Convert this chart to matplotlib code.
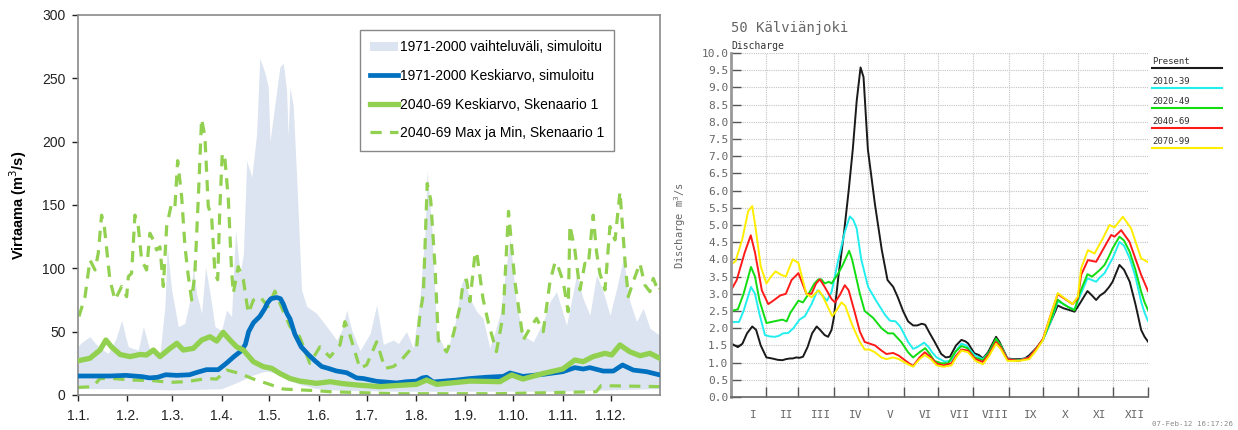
import numpy as np
import matplotlib.pyplot as plt
from matplotlib.patches import Patch
from matplotlib.lines import Line2D

# ---------------- left chart data (day of year, m3/s) ----------------
band_top_day = [0, 1.5, 5, 7.5, 11, 15, 19, 24, 27.4, 30, 31.6, 37.8, 41, 45, 51.4, 54.5, 56, 58.7,
                62.9, 67, 70.2, 72.3, 74.4, 77.5, 80, 82.8, 85.9, 90, 93.2, 96.3, 98.8, 101.6, 103.7,
                105.8, 109, 112, 114, 117.3, 119.3, 120.4, 122.5, 126.6, 128.7, 130.8, 131.8, 132.9,
                135, 137, 140.2, 143.4, 149.6, 156, 162.2, 165.4, 168.5, 171.7, 176.9, 183.2, 187.3,
                191.5, 197.8, 200.9, 206, 210.3, 214.4, 217.6, 219, 221.8, 225, 231.2, 236.4, 240.6,
                242, 245.8, 250, 254, 258.3, 264.6, 270.9, 275, 279.2, 285.5, 291.8, 296, 300.1,
                306.4, 312.7, 316.8, 321, 325.2, 329.4, 333.6, 337.8, 342, 346.1, 350.3, 354.5,
                358.7, 365]
band_top = [38, 40.6, 44, 46, 40.6, 36, 32.9, 45, 59, 45, 38, 35.5, 54, 35.5, 33, 70, 117, 83,
            54, 56.5, 75, 101, 80, 64.5, 101, 80, 54, 51, 67, 62, 130, 96, 111,
            185, 172, 206, 266, 254, 243, 200, 220, 259, 262, 241, 204, 243,
            228, 175, 83, 70, 64.5, 54, 43.4, 51, 67, 51, 35, 48.7, 71,
            40, 43.4, 40.6, 50, 37, 76, 129, 177, 133, 48.7, 33, 56.5, 88,
            92, 76, 66, 60.5, 37, 63, 124, 71, 47, 42, 58, 73.7, 81.6,
            55, 94.7, 76, 63, 94.7, 81.6, 63, 84, 108, 73.7, 58, 68.4,
            52.6, 47]

band_low_day = [0, 30, 60, 90, 100, 110, 118, 125, 132, 140, 150, 160, 200, 250, 300, 330, 365]
band_low = [5, 5, 4, 5, 10, 16, 19, 17, 12, 8, 5, 4, 3, 3, 3, 4, 5]

mean_old_day = [0, 10, 20, 30, 40, 45, 50, 55, 62, 70, 75, 80.6, 88, 93, 97.5, 102.5, 105, 107,
                110, 114, 117, 119, 121, 124.6, 127, 128.7, 131, 133, 136, 140, 144.4, 148.6,
                152.8, 157, 162, 168.5, 174.7, 179, 187.3, 199.8, 206, 212.3, 216, 218.6, 222.8,
                237.4, 245.8, 256, 266.7, 270.9, 279, 291.7, 304, 311.6, 316.8, 321, 329.4,
                335.7, 341.5, 348.2, 356.6, 365]
mean_old = [15, 15, 15, 15.5, 14.5, 13.5, 14, 16, 15.5, 16, 18, 20, 20, 25, 30, 35, 40, 50,
            57, 62, 68, 73, 76, 77, 76, 72, 64.5, 60, 48, 38, 32, 27,
            22.5, 21, 19, 17.6, 13.5, 13, 10.8, 9.5, 10.5, 11, 13.5, 14, 10.3,
            11.8, 13, 14, 14.7, 17.4, 14.7, 16.3, 18.4, 21.6, 20.5, 21.6, 18.9,
            18.9, 23.7, 19.7, 18.4, 15.8]

mean_new_day = [0, 7.5, 13.8, 17.5, 21, 26.4, 32.6, 38.9, 43, 47.3, 51.4, 57.7, 62, 66, 72.3,
                77.6, 82.8, 87, 91, 95.3, 99.5, 103.7, 110, 116.2, 121.5, 126.6, 133, 139,
                149.6, 158, 166, 174.7, 189.4, 200, 212.3, 218.6, 225, 246, 264.6, 272, 279,
                291.7, 304, 311.6, 316.8, 323, 330.5, 334.7, 339.9, 346, 352.5, 358.7, 365]
mean_new = [27, 29, 35.5, 43.4, 38, 32, 30.3, 32, 31.6, 35.5, 30.3, 36.8, 40.8, 35.5, 36.8,
            43.4, 46, 42.6, 49.5, 43.4, 38, 35.5, 26.3, 22.4, 21, 17, 13, 11,
            9.2, 10.5, 9, 7.9, 6.6, 7.5, 8.4, 11.8, 8.4, 11, 10.5, 15.8, 12.6,
            17, 20.5, 27.6, 26.3, 30.3, 32.9, 31.6, 39.5, 34.2, 31, 32.9, 28.9]

min_new_day = [0, 9.4, 13.8, 22, 34.5, 47.3, 57.7, 68, 80.6, 87, 93.2, 101.6, 110, 118.3, 128.7,
               149.6, 158, 200, 262, 325, 328, 365]
min_new = [6, 6.6, 13, 13, 11.8, 11.3, 10, 10.5, 13, 12.6, 19.7, 17, 12.6, 9.2, 4.7,
           3.4, 2.6, 1, 1, 2.6, 7.4, 6.6]

max_new_day = [0.6, 4.4, 7.5, 10.7, 12.7, 14.8, 16.5, 20, 23.2, 27.4, 30.5, 31.6, 33.6, 35.7,
               37.8, 39.9, 43, 45.1, 47.2, 49.3, 51.4, 53.5, 55.6, 58.7, 60.8, 62.5, 65, 67.1,
               69.2, 71.3, 73.3, 75.4, 77.5, 79.6, 81.7, 83.8, 85.9, 87.6, 89, 90.5, 92.2, 94.3,
               96.3, 97.4, 100.5, 103.7, 106.8, 110, 114.1, 119.3, 123.5, 126.6, 133, 139,
               145.4, 151.7, 158, 164.3, 167.4, 170.5, 176.8, 181, 187.3, 192.5, 197.7, 201.9,
               208.2, 212.4, 214.4, 216.6, 219, 221.2, 223.9, 226, 231.2, 235.3, 239.6, 241.6,
               243.7, 245.8, 249, 250, 254, 257.2, 262.4, 266.6, 270, 274, 279.2, 283.4, 287.6,
               291.8, 296, 299, 300.1, 304.3, 307.4, 308.5, 311.6, 314.8, 317.9, 320, 323.1,
               325.2, 327.3, 330.5, 333.6, 336.8, 339.9, 343, 345.1, 348.2, 352.4, 355.5,
               358.7, 360.8, 364, 365]
max_new = [62, 77.6, 106.6, 98.7, 112, 142, 133, 91, 75, 85.7, 77.6, 93.6, 96, 142,
           133, 106.6, 98.7, 127.7, 122.4, 114.5, 117, 85.7, 133, 151.5, 148.8, 185, 156.7, 117,
           93.6, 75, 96, 154, 218, 204, 148.8, 141, 96, 91, 148.8, 191, 185.6, 154,
           98.7, 80.3, 101.3, 91, 64.5, 75, 77.6, 69.8, 82, 72.4, 54, 46,
           25, 38, 30, 39.5, 57.9, 47.4, 21, 23.7, 42, 21, 22.4, 26.3,
           35.5, 38, 63, 80, 167, 154, 101, 43, 34, 47.4, 70, 89.5,
           90.8, 73.7, 112, 113, 76, 57.9, 34.2, 63, 145, 89.5, 43.4, 52.6, 60.5,
           50, 89.5, 104, 105, 89.5, 65.8, 134, 114.5, 83, 104, 102.6, 142,
           113, 96, 83, 133, 122.4, 160.5, 106.6, 77.6, 89.5, 104, 86.8,
           81.6, 92, 81.6, 84]

month_start = [0, 31, 59, 90, 120, 151, 181, 212, 243, 273, 304, 334]
left_month_labels = ['1.1.', '1.2.', '1.3.', '1.4.', '1.5.', '1.6.', '1.7.', '1.8.', '1.9.',
                     '1.10.', '1.11.', '1.12.']

# ---------------- right chart data (day of year, m3/s) ----------------
present_day = [0, 6, 10, 14, 18.6, 22, 26, 31, 36, 41, 45, 48, 51.6, 54, 57, 60, 63, 67, 71, 75,
               78, 82, 85, 88, 90, 94, 99, 103, 106.6, 110, 113.4, 116, 119.8, 126, 132, 137,
               142, 146, 150.6, 155, 159.4, 163, 167, 170, 174, 178.3, 184, 188, 191.6, 197,
               201.7, 205, 207.5, 213, 217, 220.5, 225, 232, 235, 242, 247, 252.6, 257, 261,
               268, 273, 280, 286, 291, 296, 300.7, 305, 312, 316, 319.6, 323, 327, 331, 334,
               340, 344, 349, 354, 359, 362, 365]
present = [1.56, 1.45, 1.55, 1.85, 2.05, 1.95, 1.5, 1.15, 1.12, 1.08, 1.07, 1.1, 1.12, 1.12,
           1.15, 1.14, 1.17, 1.45, 1.85, 2.05, 1.95, 1.8, 1.75, 1.95, 2.3, 3.5, 4.8, 6.0, 7.2,
           8.6, 9.58, 9.3, 7.2, 5.6, 4.27, 3.4, 3.2, 2.9, 2.5, 2.2, 2.08, 2.08, 2.13, 2.1,
           1.85, 1.6, 1.25, 1.15, 1.17, 1.5, 1.66, 1.62, 1.56, 1.27, 1.22, 1.12, 1.3, 1.75,
           1.6, 1.12, 1.1, 1.1, 1.12, 1.21, 1.45, 1.67, 2.2, 2.66, 2.58, 2.53, 2.48, 2.7,
           3.08, 2.95, 2.82, 2.95, 3.04, 3.2, 3.35, 3.84, 3.7, 3.35, 2.7, 1.95, 1.75, 1.61]

s2010_day = [0, 7, 11, 17.5, 21, 25, 29.7, 34, 38.5, 42, 45.6, 50, 54.6, 60, 64.7, 70.5, 75.7,
             80, 84, 88, 94, 99.6, 104, 107, 110, 114, 120, 127, 134.6, 139, 144, 148, 152,
             155, 159.4, 163, 169, 173, 176, 180, 187, 193, 197, 201.7, 206, 213, 220.5, 226,
             232, 236, 242, 252, 261, 267, 273, 280, 286, 291, 296, 300.7, 305, 312, 316,
             319.6, 323, 327, 331, 334, 340, 344, 349, 354, 359, 362, 365]
s2010 = [2.18, 2.18, 2.5, 3.2, 3.0, 2.4, 1.8, 1.76, 1.75, 1.78, 1.85, 1.86, 2.0, 2.25, 2.35,
         2.7, 3.1, 2.95, 2.8, 3.05, 4.0, 4.8, 5.25, 5.15, 4.9, 4.0, 3.2, 2.8, 2.4, 2.22, 2.2,
         2.05, 1.8, 1.6, 1.4, 1.45, 1.58, 1.45, 1.3, 1.15, 1.03, 1.05, 1.35, 1.55, 1.5, 1.22,
         1.1, 1.3, 1.65, 1.5, 1.1, 1.07, 1.15, 1.4, 1.65, 2.2, 2.78, 2.7, 2.6, 2.55, 2.9,
         3.45, 3.4, 3.35, 3.48, 3.6, 3.85, 4.03, 4.51, 4.4, 4.03, 3.5, 2.77, 2.45, 2.21]

s2020_day = [0, 6, 11, 17.5, 21, 25, 31, 38, 45, 48.7, 52, 59, 63, 68, 73, 76.4, 79, 82, 85.7,
             88, 94, 98, 103.4, 106, 112.8, 117, 124.4, 131.7, 137.5, 142, 149, 155, 159.4,
             165, 170, 174, 178, 184, 190, 196, 201.7, 207, 213, 220.5, 226, 232, 236, 242,
             252, 261, 267, 273, 280, 286, 291, 296, 300.7, 305, 312, 316, 319.6, 323, 327,
             331, 334, 340, 344, 349, 354, 359, 362, 365]
s2020 = [2.5, 2.55, 3.0, 3.78, 3.5, 2.8, 2.15, 2.2, 2.25, 2.2, 2.45, 2.8, 2.75, 3.0, 3.3, 3.42,
         3.42, 3.3, 3.35, 3.3, 3.6, 3.85, 4.25, 4.0, 3.0, 2.5, 2.3, 2.0, 1.85, 1.85, 1.6, 1.3,
         1.15, 1.3, 1.42, 1.25, 1.05, 0.98, 0.98, 1.3, 1.48, 1.42, 1.15, 1.07, 1.3, 1.7, 1.5,
         1.08, 1.06, 1.12, 1.4, 1.67, 2.25, 2.83, 2.7, 2.6, 2.52, 3.0, 3.57, 3.5, 3.6, 3.7,
         3.84, 4.1, 4.32, 4.66, 4.55, 4.22, 3.7, 3.06, 2.75, 2.53]

s2040_day = [0, 5, 12, 17.3, 21, 27, 32.6, 37, 43, 48, 53, 59, 62, 66, 70.5, 74.5, 77.8, 82, 88,
             91, 95, 99.6, 103, 108, 112.8, 117, 126, 131.7, 136, 142, 147, 155, 159.4, 165,
             169.6, 175, 180, 186, 193, 197, 201.7, 207.5, 214, 220.5, 226, 232, 236, 242,
             252, 261, 267, 273, 280, 286, 299, 303.6, 306.5, 312.4, 319.6, 327, 332.8,
             335.7, 341.5, 348.8, 359, 365]
s2040 = [3.1, 3.4, 4.2, 4.7, 4.2, 3.1, 2.7, 2.8, 2.95, 3.0, 3.4, 3.6, 3.35, 3.0, 3.0, 3.3,
         3.42, 3.2, 2.85, 2.75, 2.95, 3.25, 3.1, 2.5, 1.9, 1.6, 1.5, 1.35, 1.25, 1.28, 1.2,
         1.0, 0.9, 1.15, 1.3, 1.15, 0.97, 0.92, 0.98, 1.2, 1.38, 1.35, 1.1, 1.02, 1.25, 1.6,
         1.45, 1.1, 1.05, 1.15, 1.4, 1.68, 2.4, 2.99, 2.7, 2.87, 3.55, 3.98, 3.93, 4.37,
         4.71, 4.66, 4.85, 4.51, 3.55, 3.08]

s2070_day = [0, 4, 10, 15, 18.6, 22, 26, 31, 35, 39, 44, 48, 54, 59, 62, 66, 70.5, 75, 77, 80,
             85, 88.6, 92, 96.7, 100, 106, 112.8, 117, 121, 126, 131.7, 136, 142, 147, 155,
             159.4, 165, 169.6, 175, 180, 186, 193, 197, 201.7, 207.5, 214, 220.5, 226, 232,
             236, 242, 252, 261, 267, 273, 280, 286, 299, 303.6, 306.5, 312.4, 318.2, 325.5,
             331.3, 335.7, 343, 350.2, 359, 365]
s2070 = [3.85, 3.95, 4.6, 5.4, 5.55, 4.8, 3.8, 3.3, 3.5, 3.65, 3.55, 3.5, 4.0, 3.9, 3.5, 3.0,
         2.9, 3.05, 3.1, 2.95, 2.6, 2.35, 2.5, 2.75, 2.65, 2.1, 1.6, 1.38, 1.38, 1.3, 1.15,
         1.1, 1.15, 1.1, 0.95, 0.88, 1.1, 1.22, 1.1, 0.92, 0.88, 0.92, 1.15, 1.35, 1.3, 1.05,
         0.95, 1.2, 1.55, 1.4, 1.05, 1.05, 1.1, 1.35, 1.65, 2.4, 3.02, 2.7, 2.92, 3.74, 4.27,
         4.17, 4.61, 5.0, 4.93, 5.24, 4.9, 4.03, 3.92]

month_edges = [0, 31, 59, 90, 120, 151, 181, 212, 243, 273, 304, 334, 365]
roman_months = ['I', 'II', 'III', 'IV', 'V', 'VI', 'VII', 'VIII', 'IX', 'X', 'XI', 'XII']

series_names = ['Present', '2010-39', '2020-49', '2040-69', '2070-99']
series_colors = ['#1a1a1a', '#22eeee', '#11dd11', '#ff1a1a', '#ffee00']
series_days = [present_day, s2010_day, s2020_day, s2040_day, s2070_day]
series_vals = [present, s2010, s2020, s2040, s2070]

# ======================================================================
W, H = 1238, 430
fig = plt.figure(figsize=(W / 100, H / 100), dpi=100)

# --- left chart ---
ax = fig.add_axes([78 / W, 1 - 395 / H, (660 - 78) / W, (395 - 15) / H])
ax.fill_between(band_top_day, np.interp(band_top_day, band_low_day, band_low), band_top,
                color='#dbe4f0', lw=0, zorder=1)
ax.plot(max_new_day, max_new, color='#92d050', lw=2.3, dashes=(3.5, 2.6), zorder=2)
ax.plot(min_new_day, min_new, color='#92d050', lw=2.3, dashes=(3.5, 2.6), zorder=2)
ax.plot(mean_old_day, mean_old, color='#0070c0', lw=3.4, zorder=3)
ax.plot(mean_new_day, mean_new, color='#92d050', lw=3.8, zorder=4)

ax.set_xlim(0, 365)
ax.set_ylim(0, 300)
ax.set_xticks(month_start)
ax.set_xticklabels(left_month_labels)
ax.set_yticks(np.arange(0, 301, 50))
ax.tick_params(labelsize=10, colors='#222222', length=4, width=1, pad=5)
ax.tick_params(axis='x', pad=6)
for sp in ax.spines.values():
    sp.set_color('#8a8a8a')
    sp.set_linewidth(1.2)
for lab in ax.get_xticklabels() + ax.get_yticklabels():
    lab.set_fontfamily('Liberation Sans')

fig.text(18 / W, 1 - 205 / H, 'Virtaama (m$^3$/s)', rotation=90, ha='center', va='center',
         fontsize=10.5, fontweight='bold', family='Liberation Sans')

handles = [Patch(facecolor='#dbe4f0', edgecolor='none'),
           Line2D([], [], color='#0070c0', lw=3.4),
           Line2D([], [], color='#92d050', lw=3.8),
           Line2D([], [], color='#92d050', lw=2.3, dashes=(3.5, 2.6))]
labels = ['1971-2000 vaihteluväli, simuloitu', '1971-2000 Keskiarvo, simuloitu',
          '2040-69 Keskiarvo, Skenaario 1', '2040-69 Max ja Min, Skenaario 1']
leg = ax.legend(handles, labels, loc='upper left',
                bbox_to_anchor=((360 - 78) / 582, (395 - 30) / 380),
                prop={'family': 'Liberation Sans', 'size': 10}, handlelength=2.0,
                handletextpad=0.1, labelspacing=1.05, borderpad=0.75, borderaxespad=0,
                fancybox=False, framealpha=1, edgecolor='#888888')
leg.get_frame().set_linewidth(1.0)

# --- right chart ---
mono = 'DejaVu Sans Mono'
ax2 = fig.add_axes([731 / W, 1 - 397 / H, (1148 - 731) / W, (397 - 53) / H])
for d, v, c in zip(series_days, series_vals, series_colors):
    ax2.plot(d, v, color=c, lw=1.4)

ax2.set_xlim(0, 365)
ax2.set_ylim(0, 10)
ax2.set_yticks(np.arange(0, 10.01, 0.5))
ax2.set_yticklabels([f'{v:.1f}' for v in np.arange(0, 10.01, 0.5)])
ax2.set_xticks(month_edges)
ax2.set_xticklabels([])
mids = [(a + b) / 2 + 4 for a, b in zip(month_edges[:-1], month_edges[1:])]
ax2.set_xticks(mids, minor=True)
ax2.set_xticklabels(roman_months, minor=True)
ax2.tick_params(which='major', direction='in', length=7, width=1, colors='#555555', pad=2)
ax2.tick_params(which='minor', length=0, pad=9)
ax2.tick_params(which='both', labelsize=8, labelcolor='#666666')
for lab in ax2.get_xticklabels(minor=True) + ax2.get_yticklabels():
    lab.set_fontfamily(mono)
ax2.grid(True, which='major', color='#c4c4c4', linestyle=(0, (1, 1)), lw=0.8)
ax2.set_axisbelow(True)
ax2.spines['top'].set_visible(False)
ax2.spines['right'].set_visible(False)
ax2.spines['left'].set_color('#999999')
ax2.spines['left'].set_linewidth(2)
ax2.spines['bottom'].set_color('#666666')
ax2.spines['bottom'].set_linewidth(1.2)

fig.text(731 / W, 1 - 28 / H, '50 Kälviänjoki', family=mono, fontsize=10, color='#666666',
         va='center', ha='left')
fig.text(731 / W, 1 - 46 / H, 'Discharge', family=mono, fontsize=7, color='#333333',
         va='center', ha='left')
fig.text(680 / W, 1 - 225 / H, 'Discharge m$^3$/s', family=mono, fontsize=7.5,
         color='#666666', rotation=90, ha='center', va='center')

# legend at the right side: name with a coloured line under it
for i, (name, c) in enumerate(zip(series_names, series_colors)):
    y_txt = 61 + 20 * i
    fig.text(1152 / W, 1 - y_txt / H, name, family=mono, fontsize=6.5, color='#333333',
             va='center', ha='left')
    fig.add_artist(Line2D([1152 / W, 1222 / W], [1 - (y_txt + 6.5) / H] * 2, color=c, lw=1.5))

fig.text(1152 / W, 1 - 424 / H, '07-Feb-12 16:17:26', family=mono, fontsize=5.3,
         color='#888888', va='center', ha='left')

plt.savefig('out.png', dpi=100)
